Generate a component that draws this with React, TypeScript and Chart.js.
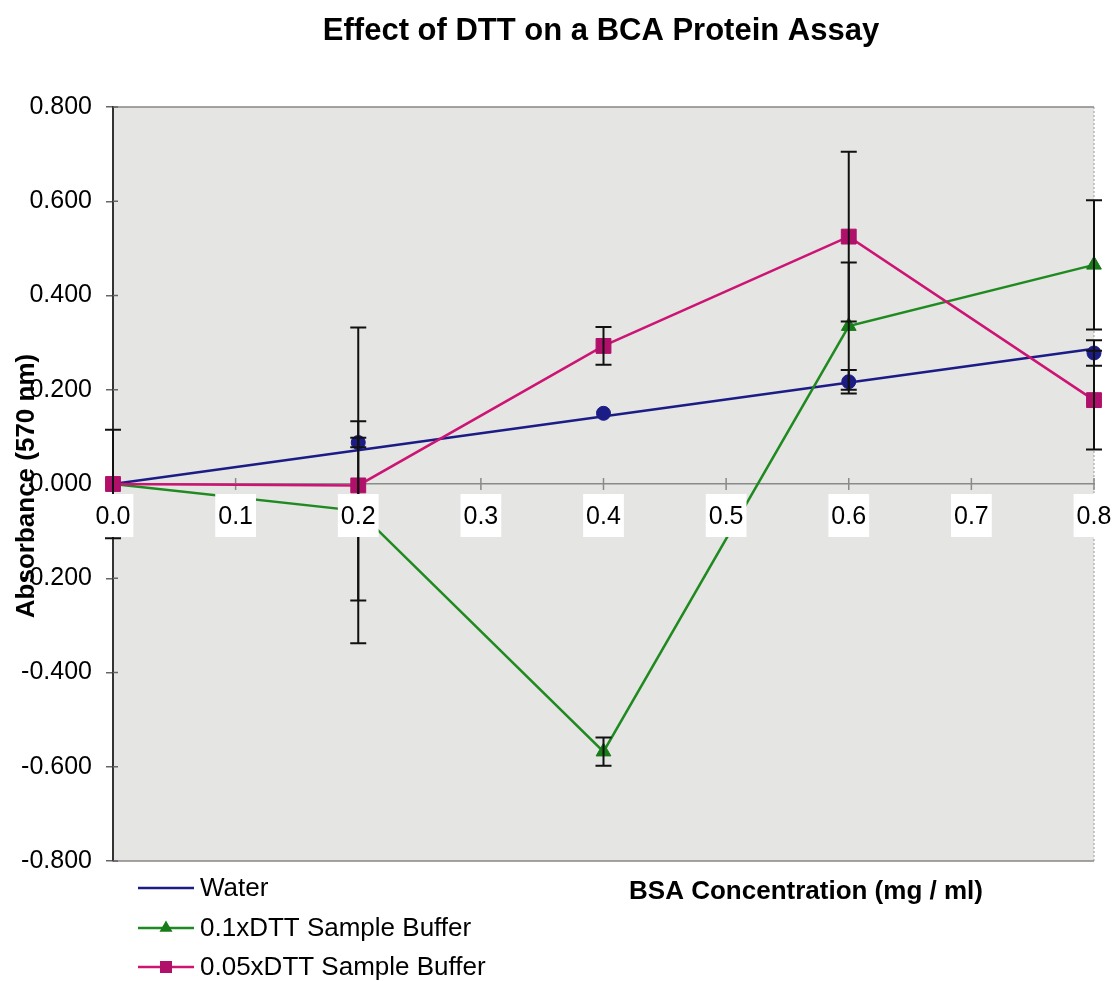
import React, { useEffect, useRef } from 'react';
import { Chart, registerables } from 'chart.js';

Chart.register(...registerables);

// ---- data ----
const concentrations = [0, 0.2, 0.4, 0.6, 0.8];
const waterValues = [0, 0.088, 0.15, 0.217, 0.278];
const waterErrors = [0, 0.01, 0, 0.025, 0.027];
const dtt01Values = [0, -0.057, -0.568, 0.335, 0.465];
const dtt01Errors = [0.115, 0.19, 0.03, 0.135, 0.137];
const dtt005Values = [0, -0.003, 0.293, 0.525, 0.178];
const dtt005Errors = [0, 0.335, 0.04, 0.18, 0.105];
const seriesLabels = ['Water', '0.1xDTT Sample Buffer', '0.05xDTT Sample Buffer'];
const chartTitle = 'Effect of DTT on a BCA Protein Assay';
const xTitle = 'BSA Concentration (mg / ml)';
const yTitle = 'Absorbance (570 nm)';
const xMin = 0;
const xMax = 0.8;
const xStep = 0.1;
const yMin = -0.8;
const yMax = 0.8;
const yStep = 0.2;

const NAVY = '#1c1c86';
const GREEN = '#1f8a1f';
const GREEN_MK = '#187a18';
const PINK = '#cc1474';
const PINK_MK = '#b0106a';
const FONT = '"Liberation Sans", Arial, Helvetica, sans-serif';

const toPts = (vals: number[]) => concentrations.map((x, i) => ({ x, y: vals[i] }));

export default function App() {
  const ref = useRef<HTMLCanvasElement>(null);

  useEffect(() => {
    document.body.style.margin = '0';
    const canvas = ref.current;
    if (!canvas) return;
    Chart.defaults.font.family = FONT;

    // linear trendline through origin for the water series
    let sxy = 0;
    let sxx = 0;
    concentrations.forEach((x, i) => {
      sxy += x * waterValues[i];
      sxx += x * x;
    });
    const slope = sxy / sxx;
    const trend = [xMin, xMax].map((x) => ({ x, y: slope * x }));

    const errorSets = [
      { values: waterValues, errors: waterErrors },
      { values: dtt01Values, errors: dtt01Errors },
      { values: dtt005Values, errors: dtt005Errors },
    ];

    const bgPlugin = {
      id: 'bg',
      beforeDraw(chart: any) {
        const { ctx, chartArea: a } = chart;
        ctx.save();
        ctx.fillStyle = '#e5e5e3';
        ctx.fillRect(a.left, a.top, a.right - a.left, a.bottom - a.top);
        ctx.strokeStyle = '#8c8585';
        ctx.lineWidth = 1.5;
        ctx.beginPath();
        ctx.moveTo(a.left, a.top);
        ctx.lineTo(a.right, a.top);
        ctx.moveTo(a.left, a.bottom);
        ctx.lineTo(a.right, a.bottom);
        ctx.stroke();
        ctx.setLineDash([2, 2]);
        ctx.strokeStyle = '#9a9a9a';
        ctx.lineWidth = 1;
        ctx.beginPath();
        ctx.moveTo(a.right, a.top);
        ctx.lineTo(a.right, a.bottom);
        ctx.stroke();
        ctx.restore();
      },
      beforeDatasetsDraw(chart: any) {
        const { ctx } = chart;
        const xs = chart.scales.x;
        const ys = chart.scales.y;
        const y0 = ys.getPixelForValue(0);
        ctx.save();
        ctx.strokeStyle = '#8a8a8a';
        ctx.lineWidth = 1.5;
        ctx.beginPath();
        xs.ticks.forEach((t: any) => {
          const px = xs.getPixelForValue(t.value);
          ctx.moveTo(px, y0 - 6);
          ctx.lineTo(px, y0 + 6);
        });
        ctx.stroke();
        ctx.strokeStyle = '#666';
        ctx.beginPath();
        ys.ticks.forEach((t: any) => {
          const py = ys.getPixelForValue(t.value);
          ctx.moveTo(ys.right, py);
          ctx.lineTo(ys.right + 5, py);
        });
        ctx.stroke();
        ctx.restore();
      },
    };

    const errorBarPlugin = {
      id: 'errorBars',
      afterDatasetsDraw(chart: any) {
        const { ctx } = chart;
        const xs = chart.scales.x;
        const ys = chart.scales.y;
        ctx.save();
        ctx.strokeStyle = '#111';
        ctx.lineWidth = 2;
        errorSets.forEach((s) => {
          concentrations.forEach((x, i) => {
            const e = s.errors[i];
            if (!e) return;
            const px = xs.getPixelForValue(x);
            const top = ys.getPixelForValue(s.values[i] + e);
            const bot = ys.getPixelForValue(s.values[i] - e);
            ctx.beginPath();
            ctx.moveTo(px, top);
            ctx.lineTo(px, bot);
            ctx.moveTo(px - 8, top);
            ctx.lineTo(px + 8, top);
            ctx.moveTo(px - 8, bot);
            ctx.lineTo(px + 8, bot);
            ctx.stroke();
          });
        });
        ctx.restore();
      },
    };

    const textPlugin = {
      id: 'texts',
      afterDraw(chart: any) {
        const { ctx } = chart;
        ctx.save();
        ctx.fillStyle = '#000';
        // title
        ctx.font = `bold 31px ${FONT}`;
        ctx.textAlign = 'center';
        ctx.textBaseline = 'alphabetic';
        ctx.fillText(chartTitle, 601, 40);
        // x title
        ctx.font = `bold 26px ${FONT}`;
        ctx.fillText(xTitle, 806, 899);
        // y title
        ctx.save();
        ctx.translate(34, 486);
        ctx.rotate(-Math.PI / 2);
        ctx.fillText(yTitle, 0, 0);
        ctx.restore();
        // legend
        const entries = [
          { label: seriesLabels[0], color: NAVY, marker: null as any, mk: '' },
          { label: seriesLabels[1], color: GREEN, marker: 'triangle', mk: GREEN_MK },
          { label: seriesLabels[2], color: PINK, marker: 'rect', mk: PINK_MK },
        ];
        const rows = [888, 928, 967];
        ctx.font = `26px ${FONT}`;
        ctx.textAlign = 'left';
        ctx.textBaseline = 'middle';
        entries.forEach((en, i) => {
          const y = rows[i];
          ctx.strokeStyle = en.color;
          ctx.lineWidth = 2.5;
          ctx.beginPath();
          ctx.moveTo(138, y);
          ctx.lineTo(194, y);
          ctx.stroke();
          if (en.marker === 'triangle') {
            ctx.fillStyle = en.mk;
            const r = 7.5;
            ctx.beginPath();
            ctx.moveTo(166, y - r);
            ctx.lineTo(166 + r * 0.866, y + r * 0.5);
            ctx.lineTo(166 - r * 0.866, y + r * 0.5);
            ctx.closePath();
            ctx.fill();
          } else if (en.marker === 'rect') {
            ctx.fillStyle = en.mk;
            ctx.fillRect(160, y - 6, 12, 12);
          }
          ctx.fillStyle = '#000';
          ctx.fillText(en.label, 200, y + 1);
        });
        ctx.restore();
      },
    };

    const chart = new Chart(canvas, {
      type: 'line',
      data: {
        datasets: [
          {
            label: seriesLabels[0],
            data: trend,
            borderColor: NAVY,
            borderWidth: 2.5,
            pointRadius: 0,
            order: 5,
            clip: false,
          },
          {
            label: seriesLabels[0] + ' points',
            data: toPts(waterValues),
            showLine: false,
            pointStyle: 'circle',
            pointRadius: 7,
            pointBackgroundColor: NAVY,
            pointBorderColor: NAVY,
            borderColor: NAVY,
            order: 4,
            clip: false,
          },
          {
            label: seriesLabels[1],
            data: toPts(dtt01Values),
            borderColor: GREEN,
            borderWidth: 2.5,
            pointStyle: 'triangle',
            pointRadius: 8.5,
            pointBackgroundColor: GREEN_MK,
            pointBorderColor: GREEN_MK,
            pointBorderWidth: 1,
            order: 2,
            clip: false,
          },
          {
            label: seriesLabels[2],
            data: toPts(dtt005Values),
            borderColor: PINK,
            borderWidth: 2.5,
            pointStyle: 'rect',
            pointRadius: 10.5,
            pointBackgroundColor: PINK_MK,
            pointBorderColor: PINK_MK,
            pointBorderWidth: 1,
            order: 1,
            clip: false,
          },
        ],
      } as any,
      options: {
        animation: false,
        responsive: true,
        maintainAspectRatio: false,
        layout: { padding: { top: 107, right: 21, bottom: 120, left: 0 } },
        plugins: {
          legend: { display: false },
          title: { display: false },
          tooltip: { enabled: false },
        },
        elements: { line: { tension: 0 } },
        scales: {
          x: {
            type: 'linear',
            min: xMin,
            max: xMax,
            position: { y: 0 },
            afterFit: (s: any) => {
              s.paddingLeft = 0;
              s.paddingRight = 0;
            },
            ticks: {
              z: 1,
              stepSize: xStep,
              autoSkip: false,
              maxRotation: 0,
              callback: (v: any) => Number(v).toFixed(1),
              font: { size: 25, family: FONT },
              color: '#000',
              padding: 10,
              showLabelBackdrop: true,
              backdropColor: '#ffffff',
              backdropPadding: { top: 8, bottom: 5, left: 3, right: 3 },
            },
            grid: { display: false },
            border: { display: true, color: '#8a8a8a', width: 1.5 },
          },
          y: {
            type: 'linear',
            min: yMin,
            max: yMax,
            position: 'left',
            afterFit: (s: any) => {
              s.width = 113;
            },
            ticks: {
              stepSize: yStep,
              callback: (v: any) => (Math.abs(Number(v)) < 1e-9 ? 0 : Number(v)).toFixed(3),
              font: { size: 25, family: FONT },
              color: '#000',
              padding: 14,
            },
            grid: { drawOnChartArea: false, drawTicks: true, tickLength: 7, color: '#666', lineWidth: 1.5 },
            border: { display: true, color: '#333', width: 2 },
          },
        },
      } as any,
      plugins: [bgPlugin, errorBarPlugin, textPlugin],
    });

    return () => chart.destroy();
  }, []);

  return (
    <div style={{ position: 'relative', width: 1115, height: 981 }}>
      <canvas ref={ref} />
    </div>
  );
}
